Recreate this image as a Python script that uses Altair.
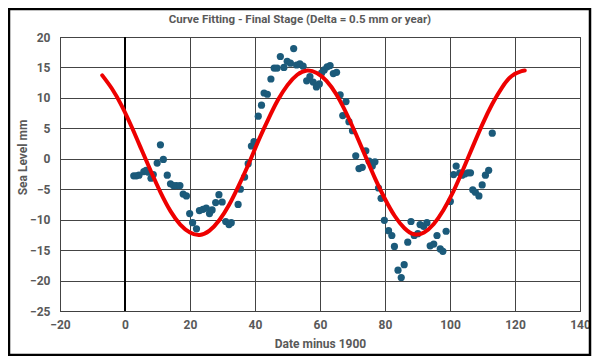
import altair as alt
import pandas as pd

# Observed sea level points (x = date minus 1900, y = mm)
obs_x = [2.7, 3.5, 4.3, 5.8, 6.5, 7.2, 8.0, 8.7, 9.9, 10.9, 11.8, 13.0, 14.0, 14.9, 15.8, 16.9,
         17.9, 18.9, 19.9, 20.8, 22.0, 22.9, 24.0, 25.0, 26.0, 26.8, 27.9, 28.9, 29.9, 31.0,
         32.0, 32.7, 34.8, 35.5, 36.8, 37.9, 38.9, 39.7, 41.0, 42.0, 42.8, 43.8, 44.9, 45.9,
         46.8, 47.8, 48.9, 49.9, 50.9, 51.9, 52.8, 53.8, 54.8, 55.9, 56.9, 57.9, 58.9, 59.8,
         60.5, 61.3, 62.2, 63.1, 64.1, 65.1, 66.2, 67.0, 68.0, 68.9, 70.0, 71.0, 72.0, 73.0,
         74.1, 75.1, 76.1, 76.9, 78.0, 78.8, 79.8, 81.1, 82.1, 82.9, 84.0, 85.0, 85.9, 87.0,
         88.0, 89.0, 90.1, 90.8, 91.9, 92.9, 93.9, 95.0, 96.0, 97.0, 97.8, 98.8, 100.1, 101.1,
         101.9, 103.0, 103.7, 104.5, 105.5, 106.3, 107.0, 107.8, 108.9, 109.9, 110.9, 111.9, 113.0]
obs_y = [-2.8, -2.8, -2.7, -2.1, -1.9, -2.2, -3.2, -2.6, -0.7, 2.3, -0.1, -2.7, -4.1, -4.4, -4.4, -4.4,
         -5.8, -6.1, -9.0, -10.5, -11.5, -8.5, -8.3, -8.1, -9.0, -8.4, -7.2, -5.9, -7.1, -10.3,
         -10.8, -10.5, -7.5, -5.0, -3.0, -0.8, 2.1, 2.8, 7.0, 8.8, 10.8, 10.6, 13.1, 14.9,
         14.9, 16.8, 15.0, 16.0, 15.7, 18.1, 15.4, 15.6, 15.2, 12.8, 13.5, 12.6, 11.8, 12.3,
         14.1, 14.6, 15.1, 15.3, 14.0, 14.2, 10.5, 7.1, 9.4, 6.1, 4.6, 0.5, -1.6, -1.4,
         1.3, -0.4, -1.2, -0.5, -4.8, -6.5, -10.1, -11.8, -12.6, -14.4, -18.3, -19.5, -17.4, -13.7,
         -10.3, -12.6, -12.3, -10.8, -11.1, -10.5, -14.3, -14.0, -12.6, -14.8, -15.2, -11.9, -7.0, -2.6,
         -1.2, -2.3, -2.7, -2.5, -2.3, -2.3, -5.1, -5.5, -6.1, -4.3, -2.7, -1.9, 4.2]

# Fitted curve
fit_x = [-7, -4, -1, 2, 5, 8, 11, 14, 17, 20, 23, 26, 29, 32, 35, 38, 41, 44, 47, 50, 53, 56,
         59, 62, 65, 68, 71, 74, 77, 80, 83, 86, 89, 92, 95, 98, 101, 104, 107, 110, 113,
         116, 119, 122, 123]
fit_y = [13.7, 11.5, 8.7, 5.3, 1.6, -2.1, -5.6, -8.6, -10.8, -12.1, -12.5, -11.8, -10.1, -7.6,
         -4.4, -0.9, 2.9, 6.4, 9.6, 12.1, 13.8, 14.5, 14.1, 12.8, 10.6, 7.6, 4.1, 0.4, -3.3,
         -6.6, -9.4, -11.4, -12.4, -12.1, -10.7, -8.4, -5.4, -1.8, 2.0, 5.7, 9.0, 11.7, 13.6,
         14.4, 14.5]

x_ticks = [-20, 0, 20, 40, 60, 80, 100, 120, 140]
y_ticks = [-25, -20, -15, -10, -5, 0, 5, 10, 15, 20]

FONT = "Liberation Sans Narrow, Roboto, sans-serif"
GRAY = "#595959"

obs = pd.DataFrame({"x": obs_x, "y": obs_y})
fit = pd.DataFrame({"x": fit_x, "y": fit_y})

xscale = alt.Scale(domain=[-20, 140], nice=False, zero=False)
yscale = alt.Scale(domain=[-25, 20], nice=False, zero=False)

xaxis = alt.Axis(values=x_ticks, title="Date minus 1900", grid=True, ticks=False,
                 labelFlush=False, labelOverlap=False, labelPadding=8, labelFontSize=12,
                 labelFont=FONT, labelFontWeight="bold", labelColor=GRAY, titleFont=FONT,
                 titleFontSize=12, titleFontWeight="bold", titleColor=GRAY, titleY=32,
                 titleBaseline="middle", domainColor="#404040", gridColor="#444444", gridWidth=1)
yaxis = alt.Axis(values=y_ticks, title="Sea Level mm", grid=True, ticks=False,
                 labelOverlap=False, labelFlush=False, labelPadding=10, labelFontSize=12,
                 labelFont=FONT, labelFontWeight="bold", labelColor=GRAY, titleFont=FONT,
                 titleFontSize=12, titleFontWeight="bold", titleColor=GRAY, titleX=-38,
                 titleY=120, titleBaseline="middle", titleAlign="center",
                 domainColor="#444444", gridColor="#444444", gridWidth=1)

frame = alt.Chart(pd.DataFrame({"a": [0]})).mark_rect(
    fill=None, stroke="black", strokeWidth=2.5
).encode(x=alt.value(-51), x2=alt.value(530), y=alt.value(-28), y2=alt.value(318))

axis_zero = alt.Chart(pd.DataFrame({"a": [0]})).mark_rule(color="black", strokeWidth=2).encode(
    x=alt.datum(0, scale=xscale)
)

pts = alt.Chart(obs).mark_circle(size=52, color="#1b5a7a", opacity=1).encode(
    x=alt.X("x:Q", scale=xscale, axis=xaxis),
    y=alt.Y("y:Q", scale=yscale, axis=yaxis),
)

line = alt.Chart(fit).mark_line(color="#ee0000", strokeWidth=4, interpolate="natural",
                                strokeCap="round").encode(
    x=alt.X("x:Q", scale=xscale, axis=xaxis),
    y=alt.Y("y:Q", scale=yscale, axis=yaxis),
)

chart = alt.layer(axis_zero, pts, line, frame).properties(
    width=520, height=274,
    padding={"left": 52, "top": 29, "right": 12, "bottom": 45},
    autosize=alt.AutoSizeParams(type="none"),
    title=alt.TitleParams("Curve Fitting - Final Stage (Delta = 0.5 mm or year)",
                          anchor="middle", frame="group", dx=-20, offset=-18, font=FONT,
                          fontSize=11.5, fontWeight="bold", color=GRAY),
).configure_view(stroke="#444444").configure_axis(labelOverlap=False)

chart.save("out.html", embed_options={"renderer": "svg", "actions": False})
